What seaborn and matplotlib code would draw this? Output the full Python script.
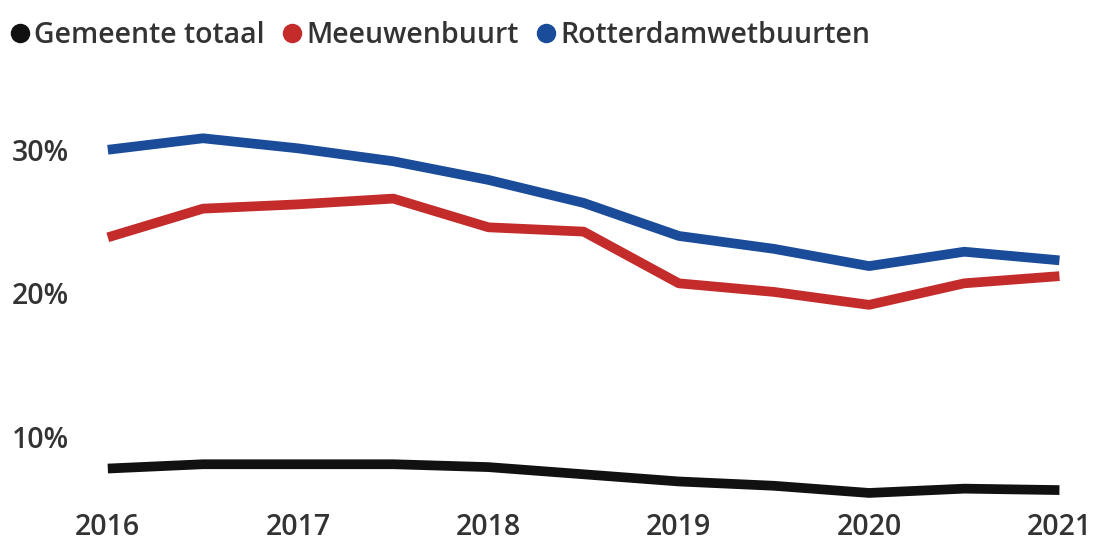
import pandas as pd
import matplotlib.pyplot as plt
from matplotlib.lines import Line2D
import seaborn as sns

# ── Data (half-year steps) ─────────────────────────────────────────
years = [2016, 2016.5, 2017, 2017.5, 2018, 2018.5, 2019, 2019.5, 2020, 2020.5, 2021]
gemeente = [7.8, 8.1, 8.1, 8.1, 7.9, 7.4, 6.9, 6.6, 6.1, 6.4, 6.3]
meeuwen = [23.9, 25.9, 26.2, 26.6, 24.6, 24.3, 20.7, 20.1, 19.2, 20.7, 21.2]
rotterdamwet = [30.0, 30.8, 30.1, 29.2, 27.9, 26.3, 24.0, 23.1, 21.9, 22.9, 22.3]

series_names = ['Gemeente totaal', 'Meeuwenbuurt', 'Rotterdamwetbuurten']
series_colors = ['#111111', '#c42b2b', '#1a4c9a']
ytick_vals = [10, 20, 30]
xtick_vals = [2016, 2017, 2018, 2019, 2020, 2021]

TEXT = '#333333'

df = pd.DataFrame({
    'jaar': years * 3,
    'waarde': gemeente + meeuwen + rotterdamwet,
    'reeks': [series_names[0]] * len(years) + [series_names[1]] * len(years)
             + [series_names[2]] * len(years),
})

sns.set_style('white')
plt.rcParams['font.family'] = ['Open Sans', 'DejaVu Sans']

fig = plt.figure(figsize=(10.96, 5.5), dpi=100)
ax = fig.add_axes([0.081, 0.075, 0.903, 0.731])

sns.lineplot(data=df, x='jaar', y='waarde', hue='reeks',
             hue_order=series_names, palette=series_colors,
             linewidth=7, legend=False, ax=ax,
             solid_capstyle='butt', solid_joinstyle='round')

ax.set_xlim(2015.9, 2021.1)
ax.set_ylim(5, 33)
ax.set_xticks(xtick_vals)
ax.set_xticklabels([str(y) for y in xtick_vals])
ax.set_yticks(ytick_vals)
ax.set_yticklabels([f'{v}%' for v in ytick_vals])
ax.set_xlabel('')
ax.set_ylabel('')
ax.tick_params(length=0, labelsize=20.5, colors=TEXT)
ax.tick_params(axis='y', pad=14)
ax.tick_params(axis='x', pad=3)
for lab in ax.get_xticklabels() + ax.get_yticklabels():
    lab.set_fontweight('semibold')
sns.despine(ax=ax, left=True, bottom=True)

handles = [Line2D([], [], marker='o', linestyle='', markersize=13,
                  color=c) for c in series_colors]
leg = fig.legend(handles, series_names, loc='upper left',
                 bbox_to_anchor=(-0.018, 1.008), ncol=3, frameon=False,
                 handletextpad=0.0, columnspacing=0.45, handlelength=1.0,
                 prop={'size': 20.5, 'weight': 'semibold'})
for t in leg.get_texts():
    t.set_color(TEXT)

plt.savefig('out.png', dpi=100, facecolor='white')
